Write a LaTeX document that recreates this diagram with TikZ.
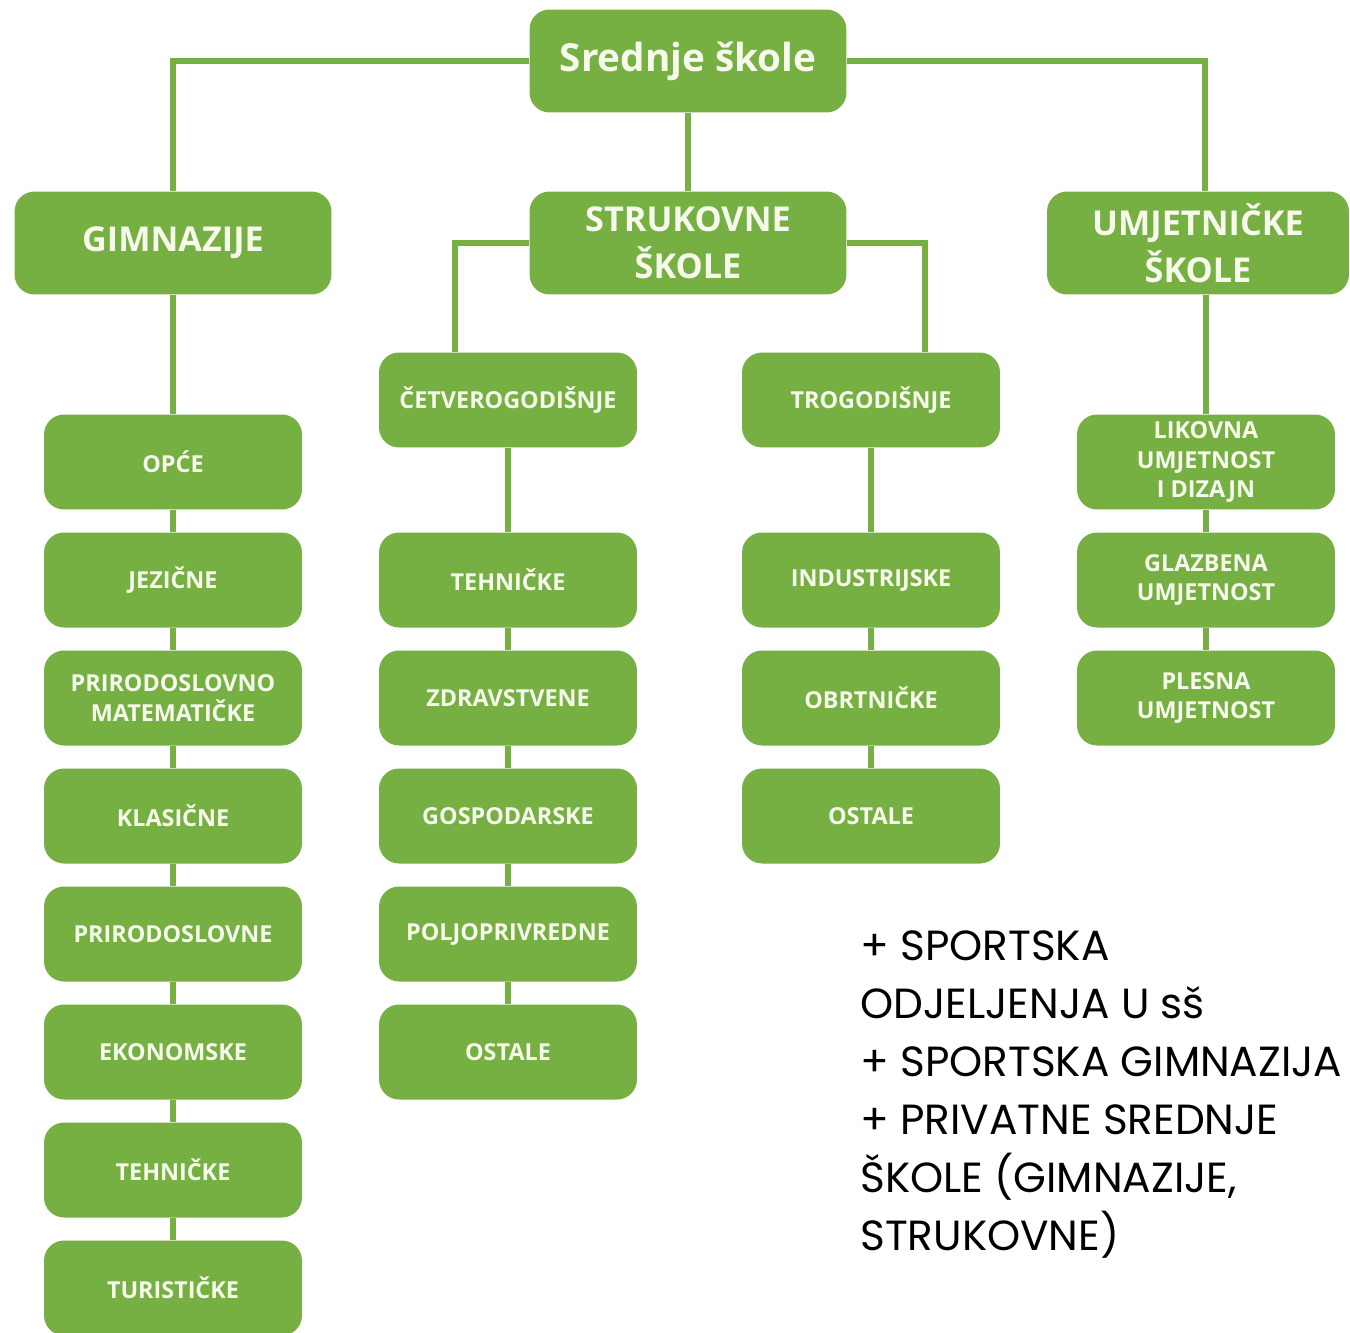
\documentclass[tikz,border=0pt]{standalone}
\usepackage{fontspec}
\setmainfont{Open Sans}
\newfontfamily\notefont{Poppins}
\definecolor{skgreen}{HTML}{76B043}
\definecolor{sktext}{HTML}{F6F9EC}
\tikzset{
  box/.style={fill=skgreen, rounded corners=0.4cm, text=sktext, align=center,
    font=\bfseries\fontsize{13.3}{17}\selectfont, inner sep=0pt,
    minimum width=5.16cm, minimum height=1.9cm},
  headbox/.style={box, font=\bfseries\fontsize{19.5}{27}\selectfont,
    minimum width=6.34cm, minimum height=2.06cm},
  link/.style={draw=skgreen, line width=3.4pt},
}
\begin{document}
\begin{tikzpicture}[x=0.02cm, y=-0.02cm]
  \path[fill=white, use as bounding box] (0,0) rectangle (1350,1333);
  % top levels
  \node[headbox, font=\bfseries\fontsize{22}{28}\selectfont] (skole) at (688,61) {Srednje škole};
  \node[headbox] (gim) at (173,243) {GIMNAZIJE};
  \node[headbox] (struk) at (688,243) {STRUKOVNE\\ŠKOLE};
  \node[headbox, minimum width=6.04cm] (umj) at (1198,243) {UMJETNIČKE\\ŠKOLE};
  \node[box] (cetv) at (508,400) {ČETVEROGODIŠNJE};
  \node[box] (trog) at (871,400) {TROGODIŠNJE};
  % columns
  \foreach \txt [count=\i] in {OPĆE, JEZIČNE, {PRIRODOSLOVNO\\MATEMATIČKE}, KLASIČNE,
      PRIRODOSLOVNE, EKONOMSKE, TEHNIČKE, TURISTIČKE}
    \node[box] (g\i) at (173,344+118*\i) {\txt};
  \foreach \txt [count=\i] in {TEHNIČKE, ZDRAVSTVENE, GOSPODARSKE, POLJOPRIVREDNE, OSTALE}
    \node[box] (s\i) at (508,462+118*\i) {\txt};
  \foreach \txt [count=\i] in {INDUSTRIJSKE, OBRTNIČKE, OSTALE}
    \node[box] (t\i) at (871,462+118*\i) {\txt};
  \foreach \txt [count=\i] in {{LIKOVNA\\UMJETNOST\\I DIZAJN}, {GLAZBENA\\UMJETNOST}, {PLESNA\\UMJETNOST}}
    \node[box] (u\i) at (1206,344+118*\i) {\txt};
  % connectors
  \draw[link] (skole.west) -| (gim.north);
  \draw[link] (skole.east) -| ([xshift=0.14cm]umj.north);
  \draw[link] (skole.south) -- (struk.north);
  \draw[link] (struk.west) -| ([xshift=-1.06cm]cetv.north);
  \draw[link] (struk.east) -| ([xshift=1.08cm]trog.north);
  \draw[link] (gim.south) -- (g1.north);
  \draw[link] (cetv.south) -- (s1.north);
  \draw[link] (trog.south) -- (t1.north);
  \draw[link] (umj.south -| u1.north) -- (u1.north);
  \foreach \i [evaluate=\i as \j using int(\i+1)] in {1,...,7}
    \draw[link] (g\i.south) -- (g\j.north);
  \foreach \i [evaluate=\i as \j using int(\i+1)] in {1,...,4}
    \draw[link] (s\i.south) -- (s\j.north);
  \foreach \i [evaluate=\i as \j using int(\i+1)] in {1,2}
    \draw[link] (t\i.south) -- (t\j.north) (u\i.south) -- (u\j.north);
  % note
  \node[anchor=north west, align=left, inner sep=0pt, font=\notefont\fontsize{24}{33}\selectfont]
    (extra) at (860,930) {+ SPORTSKA\\ODJELJENJA U sš\\+ SPORTSKA GIMNAZIJA\\+ PRIVATNE SREDNJE\\ŠKOLE (GIMNAZIJE,\\STRUKOVNE)};
\end{tikzpicture}
\end{document}
